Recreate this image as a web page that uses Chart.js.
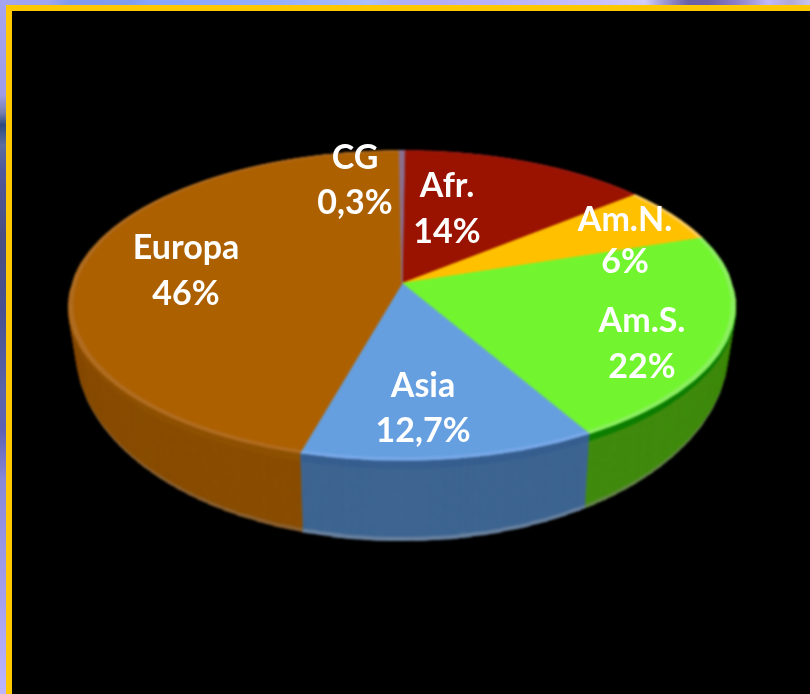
<!DOCTYPE html>
<html><head><meta charset="utf-8">
<script src="https://cdn.jsdelivr.net/npm/chart.js@4"></script>
<style>
html,body{margin:0;padding:0;background:#000;width:810px;height:694px;overflow:hidden}
#top{position:absolute;left:0;top:0;width:810px;height:6px;background:linear-gradient(90deg,#a4a4f0 0,#9ca4f0 50px,#7f99ee 70px,#7f9df0 130px,#85a5ff 150px,#95aeff 280px,#aabefa 370px,#aeb0f8 395px,#b4acf4 430px,#b8b4f8 510px,#c8c0fa 600px,#d0ccfc 645px,#a8a4dc 660px,#6a60a6 688px,#6c60a8 708px,#8a7cc8 735px,#a8a0e0 755px,#c0b8f8 768px,#b0a8d8 790px,#c8c4ec 810px)}
#left{position:absolute;left:0;top:0;width:6px;height:694px;background:linear-gradient(180deg,#a4a4f0 0,#9c9ce8 95px,#7880b0 112px,#2c4a80 125px,#5a6ca0 145px,#50589c 170px,#4a4e80 240px,#485090 310px,#5a64a8 390px,#5e60b4 430px,#8888d8 480px,#a4a0f0 600px,#bdb5ff 694px)}
#frame{position:absolute;left:6px;top:5px;width:804px;height:689px;box-sizing:border-box;border-left:6px solid #ffc800;border-top:6px solid #ffc800;background:#000}
canvas{position:absolute;left:0;top:0}
</style></head>
<body>
<div id="top"></div><div id="left"></div><div id="frame"></div>
<canvas id="c" width="810" height="694"></canvas>
<script>
const names = ["Afr.", "Am.N.", "Am.S.", "Asia", "Europa", "CG"];
const valueTexts = ["14%", "6%", "22%", "12,7%", "46%", "0,3%"];
const shares = [14, 6, 22, 12.7, 46, 0.3];
const topColors = ["#9a1200", "#ffc000", "#72f52f", "#659fdf", "#ad6000", "#8a7090"];
const rimColors = ["#9a1a10", "#ffd060", "#8cf060", "#78a8e8", "#b06c20", "#8a7090"];
const wallColors = ["#6a0c00", "#b08500", "#428c10", "#3f6692", "#8a4e00", "#5a4a60"];
const wallUpper = ["#6a0c00", "#b08500", "#0f7f00", "#386090", "#8f5204", "#5a4a60"];
const wallLower = ["#6a0c00", "#b08500", "#66884a", "#68809e", "#8a6030", "#5a4a60"];

const view = {cx: 402, apexY: 283, width: 330, a: 151.9, b: -0.142, midT: 22, depth: 76};
const labelBoxes = [[447, 186, 232], [625, 220, 262], [642, 321, 367], [423, 386, 431], [186, 248, 294], [355, 158, 203]];

function flatDisc(meta, colors, rim) {
  const cv = document.createElement('canvas');
  cv.width = 810; cv.height = 694;
  const g = cv.getContext('2d');
  const paint = (list) => meta.data.forEach((el, i) => {
    const saved = el.options;
    el.options = Object.assign(Object.create(saved), {backgroundColor: list[i], borderColor: list[i], borderWidth: 1});
    el.draw(g);
    el.options = saved;
  });
  if (rim) {
    paint(rim);
    const a = meta.data[0];
    g.translate(a.x, a.y); g.scale(0.985, 0.985); g.translate(-a.x, -a.y);
  }
  paint(colors);
  return cv;
}

function warp(out, src, arc, fromT, toT, k) {
  const R = arc.outerRadius;
  const vAt = t => t / (view.a - view.b * t);
  for (let t = fromT; t < toT; t++) {
    const v0 = vAt(t), v1 = vAt(t + 1);
    const half = view.width / (1 + view.b * (v0 + v1) / 2) * k.kx;
    const y = k.y0 + (t - view.midT) * k.ky;
    out.drawImage(src, arc.x - R, arc.y + v0 * R, 2 * R, Math.max((v1 - v0) * R, 0.5),
                  view.cx - half, y, 2 * half, Math.ceil(k.ky) + 0.5);
  }
}

const tiltPlugin = {
  id: 'tilt',
  beforeDatasetsDraw(chart) {
    const meta = chart.getDatasetMeta(0);
    const arc = meta.data[0];
    const outCv = document.createElement('canvas');
    outCv.width = 810; outCv.height = 694;
    const out = outCv.getContext('2d');
    const wall = flatDisc(meta, wallColors), wallU = flatDisc(meta, wallUpper), wallL = flatDisc(meta, wallLower);
    const face = flatDisc(meta, topColors, rimColors);
    for (let d = view.depth; d >= 1; d--) {
      const f = d / view.depth;
      const src = d < 8 ? wallU : (d > view.depth - 4 ? wallL : wall);
      warp(out, src, arc, view.midT, 177, {kx: (333 - 8 * f) / 333, ky: (155 + 35 * f) / 155, y0: view.apexY + view.midT + 45 * f});
    }
    warp(out, face, arc, -133, 177, {kx: 1, ky: 1, y0: view.apexY + view.midT});
    const ctx = chart.ctx;
    ctx.save();
    ctx.filter = 'blur(1.3px)';
    ctx.drawImage(outCv, 0, 0);
    ctx.restore();
    return false;
  },
  afterDraw(chart) {
    const ctx = chart.ctx;
    ctx.save();
    ctx.fillStyle = '#fff';
    ctx.font = 'bold 34px Lato, "Open Sans", sans-serif';
    ctx.textAlign = 'center';
    ctx.textBaseline = 'middle';
    names.forEach((n, i) => {
      const b = labelBoxes[i];
      ctx.fillText(n, b[0], b[1]);
      ctx.fillText(valueTexts[i], b[0], b[2]);
    });
    ctx.restore();
  }
};

new Chart(document.getElementById('c'), {
  type: 'pie',
  data: {labels: names, datasets: [{data: shares, backgroundColor: topColors, borderWidth: 0}]},
  options: {
    responsive: false,
    animation: false,
    rotation: 0.5,
    radius: 333,
    layout: {padding: 0},
    plugins: {legend: {display: false}, tooltip: {enabled: false}, title: {display: false}}
  },
  plugins: [tiltPlugin]
});
</script>
</body></html>
